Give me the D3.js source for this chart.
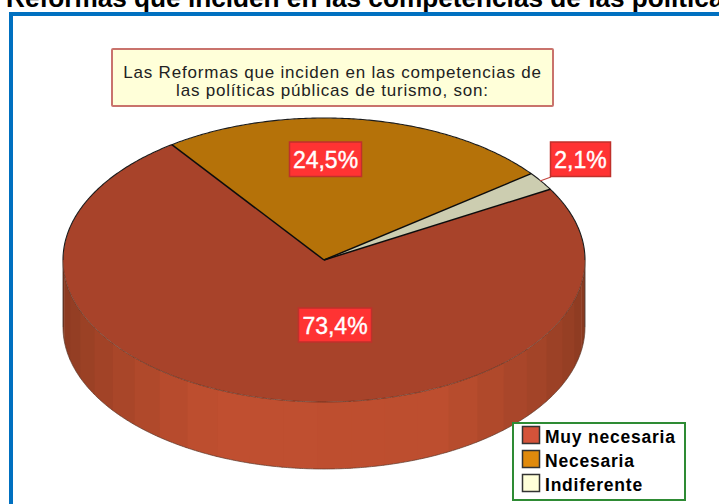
<!DOCTYPE html>
<html lang="es">
<head>
<meta charset="utf-8">
<script src="https://cdn.jsdelivr.net/npm/d3@7/dist/d3.min.js"></script>
<style>
html,body{margin:0;padding:0;background:#fff;overflow:hidden}
svg{display:block}
text{font-family:"Liberation Sans",Arial,sans-serif}
</style>
</head>
<body>
<svg id="c" width="719" height="504"></svg>
<script>
const chartTitle = "Reformas que inciden en las competencias de las políticas";
const noteLines = ["Las Reformas que inciden en las competencias de", "las políticas públicas de turismo, son:"];
const categories = ["Muy necesaria", "Necesaria", "Indiferente"];
const values = [73.4, 24.5, 2.1];
const valueLabels = ["73,4%", "24,5%", "2,1%"];
const legendColors = ["#d4533a", "#e08a0c", "#ffffd9"];
const topColors = ["#a8432a", "#b57209", "#cccdb0"];

const W = 719, H = 504;
const cx = 324, cy = 260, rx = 261, ry = 142, depth = 67;
const startDeg = 60.1;
const deg = d => d * Math.PI / 180;
const svg = d3.select("#c");
const rimX = a => cx + rx * Math.sin(deg(a));
const rimY = a => cy - ry * Math.cos(deg(a));

// page title and frame
svg.append("text").attr("x", 6).attr("y", 7)
  .attr("font-size", 26.2).attr("font-weight", "bold").attr("fill", "#000").text(chartTitle);
svg.append("rect").attr("x", 11).attr("y", 14).attr("width", W + 20).attr("height", H + 20)
  .attr("fill", "#fff").attr("stroke", "#0070c0").attr("stroke-width", 4);

// side wall, drawn in strips along the visible front of the pie
const stepDeg = 7.5, phaseDeg = 1.5;
const wallShade = d3.scaleLinear().domain([90, 155, 205, 270])
  .range(["#84381f", "#bd4e2f", "#c04f30", "#84381f"]).clamp(true);
const wallArea = d3.area().x(rimX).y0(rimY).y1(a => rimY(a) + depth);
const edges = [90, ...d3.range(90 + phaseDeg, 270, stepDeg), 270];
svg.append("g").selectAll("path").data(d3.pairs(edges)).join("path")
  .attr("d", ([a, b]) => wallArea(d3.range(a, Math.min(b + 0.6, 270), 0.25).concat(Math.min(b + 0.6, 270))))
  .attr("fill", ([a, b]) => wallShade((a + b) / 2));
const rimLine = d3.line().x(rimX).y(rimY);
const bottomEdge = d3.line().x(rimX).y(a => rimY(a) + depth);
svg.append("path").attr("d", bottomEdge(d3.range(90, 270.5, 0.5)))
  .attr("fill", "none").attr("stroke", "#5a3a2c").attr("stroke-width", 0.7);
[90, 270].forEach(a => svg.append("line")
  .attr("x1", rimX(a)).attr("x2", rimX(a)).attr("y1", cy).attr("y2", cy + depth)
  .attr("stroke", "#3a2a22").attr("stroke-width", 0.8));

// top face
const pie = d3.pie().sort(null).value(d => d)
  .startAngle(deg(startDeg)).endAngle(deg(startDeg + 360));
const arc = d3.arc().innerRadius(0).outerRadius(rx);
const slices = pie(values);
svg.append("g").attr("transform", `translate(${cx},${cy}) scale(1,${ry / rx})`)
  .selectAll("path").data(slices).join("path")
  .attr("d", arc)
  .attr("fill", (d, i) => topColors[i]);
// rim outline: strong along the back, faint along the front
svg.append("path").attr("d", rimLine(d3.range(-90, 90.5, 0.5)))
  .attr("fill", "none").attr("stroke", "#1c1c1c").attr("stroke-width", 1.1);
svg.append("path").attr("d", rimLine(d3.range(90, 270.5, 0.5)))
  .attr("fill", "none").attr("stroke", "#4a2a1c").attr("stroke-width", 0.6);
// slice separators
svg.append("g").selectAll("line").data(slices).join("line")
  .attr("x1", cx).attr("y1", cy)
  .attr("x2", d => rimX(d.startAngle * 180 / Math.PI))
  .attr("y2", d => rimY(d.startAngle * 180 / Math.PI))
  .attr("stroke", "#0c0c0c").attr("stroke-width", 1.5);

// note box
svg.append("rect").attr("x", 112).attr("y", 49).attr("width", 441).attr("height", 57).attr("rx", 1)
  .attr("fill", "#ffffd9").attr("stroke", "#c9736c").attr("stroke-width", 2);
svg.append("g").selectAll("text").data(noteLines).join("text")
  .attr("x", 332.5).attr("y", (d, i) => 77.5 + i * 18.5)
  .attr("text-anchor", "middle").attr("font-size", 17).attr("letter-spacing", 0.8)
  .attr("fill", "#222").text(d => d);

// leader line for the small slice
svg.append("line").attr("x1", 540).attr("y1", 181).attr("x2", 551).attr("y2", 177)
  .attr("stroke", "#c2453f").attr("stroke-width", 1.2);

// value labels
const labelBoxes = [[298.5, 308, 73, 34], [289.5, 142, 72, 34.5], [550.5, 142, 60, 34.5]];
const labels = svg.append("g").selectAll("g").data(valueLabels).join("g");
labels.append("rect")
  .attr("x", (d, i) => labelBoxes[i][0]).attr("y", (d, i) => labelBoxes[i][1])
  .attr("width", (d, i) => labelBoxes[i][2]).attr("height", (d, i) => labelBoxes[i][3])
  .attr("fill", "#ff3333").attr("stroke", "#c0302b").attr("stroke-width", 1.5);
labels.append("text")
  .attr("x", (d, i) => labelBoxes[i][0] + labelBoxes[i][2] / 2)
  .attr("y", (d, i) => labelBoxes[i][1] + 25.5)
  .attr("text-anchor", "middle").attr("font-size", 23).attr("fill", "#fff")
  .attr("stroke", "#fff").attr("stroke-width", 0.4).text(d => d);

// legend
svg.append("rect").attr("x", 513).attr("y", 423).attr("width", 172).attr("height", 77)
  .attr("fill", "#fff").attr("stroke", "#2e8b34").attr("stroke-width", 2);
const legend = svg.append("g").selectAll("g").data(categories).join("g")
  .attr("transform", (d, i) => `translate(0,${i * 24})`);
legend.append("rect").attr("x", 522.5).attr("y", 426.5).attr("width", 17).attr("height", 17)
  .attr("fill", (d, i) => legendColors[i]).attr("stroke", "#333").attr("stroke-width", 1.5);
legend.append("text").attr("x", 545).attr("y", 443)
  .attr("font-size", 17.5).attr("font-weight", "bold").attr("letter-spacing", 0.77)
  .attr("fill", "#000").text(d => d);
</script>
</body>
</html>
